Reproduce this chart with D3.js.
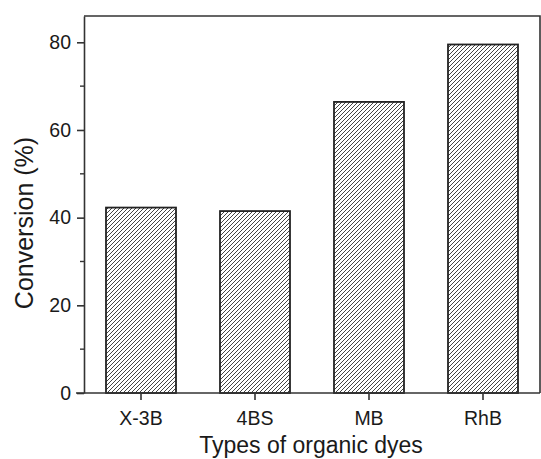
<!DOCTYPE html>
<html>
<head>
<meta charset="utf-8">
<script src="https://cdn.jsdelivr.net/npm/d3@7"></script>
<style>
  body { margin: 0; background: #fff; }
  svg text { font-family: "Liberation Sans", Arial, sans-serif; fill: #1a1a1a; }
</style>
</head>
<body>
<div id="chart"></div>
<script>
// data
const dyes = ['X-3B', '4BS', 'MB', 'RhB'];
const conversion = [42.3, 41.5, 66.4, 79.5];
const majorTicks = [0, 20, 40, 60, 80];
const minorTicks = [10, 30, 50, 70];

const width = 541, height = 459;
const mLeft = 84, mRight = 540, mTop = 16, mBottom = 393;

const svg = d3.select('#chart').append('svg')
  .attr('width', width)
  .attr('height', height);

// hatch pattern "////"
const defs = svg.append('defs');
defs.append('pattern')
  .attr('id', 'hatch')
  .attr('patternUnits', 'userSpaceOnUse')
  .attr('width', 4).attr('height', 4)
  .append('path')
    .attr('d', 'M-1,1 l2,-2 M0,4 l4,-4 M3,5 l2,-2')
    .attr('stroke', '#444')
    .attr('stroke-width', 1);

const x = d3.scaleBand()
  .domain(dyes)
  .range([mLeft, mRight])
  .paddingInner(0.386)
  .paddingOuter(0.193);

const y = d3.scaleLinear()
  .domain([0, 86])
  .range([mBottom, mTop]);

// bars
svg.append('g')
  .selectAll('rect')
  .data(dyes)
  .join('rect')
    .attr('x', d => x(d))
    .attr('y', (d, i) => y(conversion[i]))
    .attr('width', x.bandwidth())
    .attr('height', (d, i) => y(0) - y(conversion[i]))
    .attr('fill', 'url(#hatch)')
    .attr('stroke', '#222')
    .attr('stroke-width', 1.8);

// frame (top + right)
svg.append('path')
  .attr('d', `M${mLeft},${mTop}H${mRight}V${mBottom}`)
  .attr('fill', 'none')
  .attr('stroke', '#333')
  .attr('stroke-width', 1.6);

// y axis
const yAxis = svg.append('g')
  .attr('transform', `translate(${mLeft},0)`)
  .call(d3.axisLeft(y).tickValues(majorTicks).tickSize(7).tickPadding(6).tickSizeOuter(0));
yAxis.select('.domain').attr('stroke', '#333').attr('stroke-width', 1.6);
yAxis.selectAll('.tick line').attr('stroke', '#333').attr('stroke-width', 1.6);
yAxis.selectAll('.tick text').attr('font-size', 19.5).attr('fill', '#1a1a1a');

svg.append('g')
  .selectAll('line')
  .data(minorTicks)
  .join('line')
    .attr('x1', mLeft - 4).attr('x2', mLeft)
    .attr('y1', d => y(d)).attr('y2', d => y(d))
    .attr('stroke', '#333')
    .attr('stroke-width', 1.4);

// x axis
const xAxis = svg.append('g')
  .attr('transform', `translate(0,${mBottom})`)
  .call(d3.axisBottom(x).tickSize(7).tickPadding(11).tickSizeOuter(0));
xAxis.select('.domain').attr('stroke', '#333').attr('stroke-width', 1.6)
  .attr('d', `M${mLeft - 8},0H${mRight}`);
xAxis.selectAll('.tick line').attr('stroke', '#333').attr('stroke-width', 1.6);
xAxis.selectAll('.tick text').attr('font-size', 19.5).attr('fill', '#1a1a1a');

// axis titles
svg.append('text')
  .attr('x', (mLeft + mRight) / 2 - 1)
  .attr('y', 453)
  .attr('text-anchor', 'middle')
  .attr('font-size', 23)
  .text('Types of organic dyes');

svg.append('text')
  .attr('transform', 'translate(33,223) rotate(-90)')
  .attr('text-anchor', 'middle')
  .attr('font-size', 25)
  .text('Conversion (%)');
</script>
</body>
</html>
